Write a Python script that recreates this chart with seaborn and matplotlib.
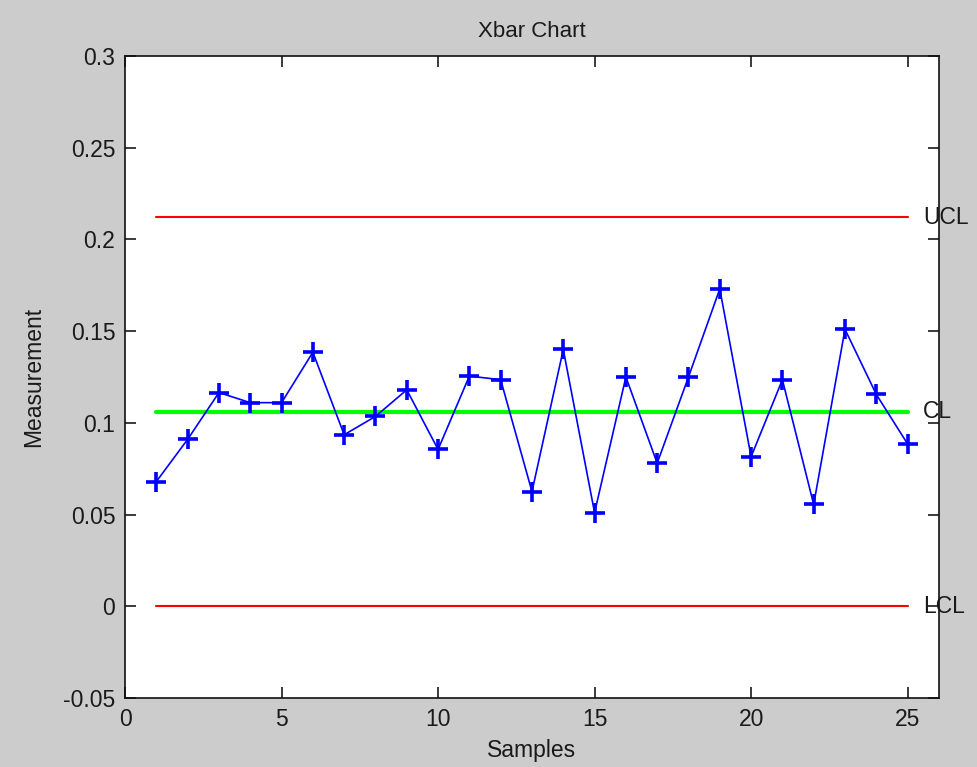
import numpy as np
import pandas as pd
import matplotlib
matplotlib.use("Agg")
import matplotlib.pyplot as plt
import seaborn as sns

# Data
samples = list(range(1, 26))
xbar = [0.068, 0.091, 0.1165, 0.111, 0.111, 0.1385, 0.0935, 0.1035, 0.118, 0.0855,
        0.1255, 0.1235, 0.0625, 0.140, 0.051, 0.125, 0.078, 0.125, 0.173, 0.0815,
        0.1235, 0.0555, 0.151, 0.1155, 0.0885]
limit_names = ["UCL", "CL", "LCL"]
limit_values = [0.212, 0.106, 0.0]
limit_colors = ["#ff0000", "#00ff00", "#ff0000"]
limit_widths = [1.5, 3.0, 1.5]

sns.set_style("ticks")
plt.rcParams["font.family"] = ["Liberation Sans", "DejaVu Sans"]

df = pd.DataFrame({"sample": samples, "xbar": xbar})

fig = plt.figure(figsize=(9.77, 7.67), dpi=100, facecolor="#cccccc")
ax = fig.add_axes([0.128, 0.090, 0.833, 0.837])
ax.set_facecolor("white")

# control limit lines with their labels to the right
for name, val, col, lw in zip(limit_names, limit_values, limit_colors, limit_widths):
    ax.plot([samples[0], samples[-1]], [val, val], color=col, linewidth=lw, zorder=2)
    ax.text(samples[-1] + 0.5, val, name, ha="left", va="center", fontsize=16.5,
            color="#1a1a1a", clip_on=False)

sns.lineplot(data=df, x="sample", y="xbar", color="#0000ff", linewidth=1.2,
             marker="+", markersize=15, markeredgewidth=2.6, markeredgecolor="#0000ff",
             ax=ax, zorder=3)

ax.set_xlim(0, 26)
ax.set_ylim(-0.05, 0.3)
ax.set_xticks([0, 5, 10, 15, 20, 25])
ax.set_yticks([-0.05, 0, 0.05, 0.1, 0.15, 0.2, 0.25, 0.3])
ax.set_yticklabels(["-0.05", "0", "0.05", "0.1", "0.15", "0.2", "0.25", "0.3"])
ax.tick_params(direction="in", length=8, width=1.2, top=True, right=True,
               labelsize=16.5, colors="#1a1a1a", pad=7)
for sp in ax.spines.values():
    sp.set_visible(True)
    sp.set_linewidth(1.2)
    sp.set_color("#111111")

ax.set_xlabel("Samples", fontsize=16.5, labelpad=6, color="#1a1a1a")
ax.set_ylabel("Measurement", fontsize=16.5, labelpad=13, color="#1a1a1a")
ax.set_title("Xbar Chart", fontsize=16, pad=14, color="#1a1a1a")

fig.savefig("out.png", dpi=100, facecolor=fig.get_facecolor())
